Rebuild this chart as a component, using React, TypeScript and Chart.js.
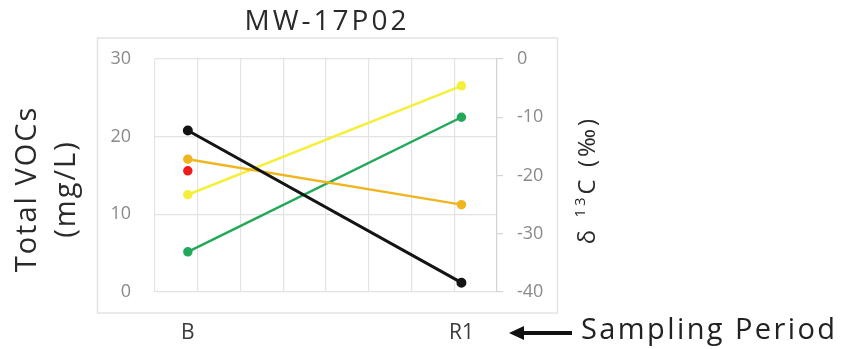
import React, { useEffect, useRef } from "react";
import { Chart, registerables } from "chart.js";

Chart.register(...registerables);

const chartTitle = "MW-17P02";
const categories = ["B", "R1"];
const categoryX = [0, 1];
const totalVOCs = [20.8, 1.2];
const orangeD13C = [-17.2, -25.0];
const redD13C = [-19.2];
const yellowD13C = [-23.3, -4.6];
const greenD13C = [-33.1, -10.0];
const leftTicks = [0, 10, 20, 30];
const rightTicks = [0, -10, -20, -30, -40];
const xMin = -0.12;
const xMax = 1.13;
const xGridCount = 8;

const FONT = "'Open Sans', 'DejaVu Sans', sans-serif";

const pts = (vals: number[]) => vals.map((v, i) => ({ x: categoryX[i], y: v }));

const decorPlugin = {
  id: "decor",
  beforeDraw(chart: any) {
    const { ctx, chartArea } = chart;
    ctx.save();
    ctx.strokeStyle = "#e4e4e4";
    ctx.lineWidth = 1.5;
    ctx.strokeRect(chartArea.left - 57.5, chartArea.top - 21, chartArea.right - chartArea.left + 118, chartArea.bottom - chartArea.top + 42);
    ctx.restore();
  },
  afterDraw(chart: any) {
    const { ctx } = chart;
    ctx.save();
    // Title
    ctx.fillStyle = "#2a2a2a";
    ctx.font = `28px ${FONT}`;
    (ctx as any).letterSpacing = "3px";
    ctx.textAlign = "center";
    ctx.textBaseline = "middle";
    ctx.fillText(chartTitle, 327, 22);

    // Left axis title
    ctx.save();
    ctx.translate(28, 189);
    ctx.rotate(-Math.PI / 2);
    ctx.font = `29px ${FONT}`;
    (ctx as any).letterSpacing = "2px";
    ctx.fillStyle = "#2a2a2a";
    ctx.textAlign = "center";
    ctx.textBaseline = "middle";
    ctx.fillText("Total VOCs", 0, 0);
    ctx.fillText("(mg/L)", 0, 39);
    ctx.restore();

    // Right axis title with superscript
    ctx.save();
    ctx.translate(588, 180);
    ctx.rotate(-Math.PI / 2);
    ctx.fillStyle = "#2a2a2a";
    ctx.textBaseline = "middle";
    (ctx as any).letterSpacing = "3px";
    const big = `24px ${FONT}`;
    const small = `15px ${FONT}`;
    const parts: [string, string, number][] = [["δ ", big, 0], ["13", small, -7], ["C (‰)", big, 0]];
    let total = 0;
    parts.forEach(([t, f]) => { ctx.font = f; total += ctx.measureText(t).width; });
    let x = -total / 2;
    ctx.textAlign = "left";
    parts.forEach(([t, f, dy]) => { ctx.font = f; ctx.fillText(t, x, dy); x += ctx.measureText(t).width; });
    ctx.restore();

    // Arrow and "Sampling Period"
    const ay = 333;
    (ctx as any).letterSpacing = "0px";
    ctx.strokeStyle = "#111";
    ctx.fillStyle = "#111";
    ctx.lineWidth = 4;
    ctx.beginPath();
    ctx.moveTo(520, ay);
    ctx.lineTo(572, ay);
    ctx.stroke();
    ctx.beginPath();
    ctx.moveTo(509, ay);
    ctx.lineTo(524, ay - 7);
    ctx.lineTo(524, ay + 7);
    ctx.closePath();
    ctx.fill();
    ctx.font = `29px ${FONT}`;
    (ctx as any).letterSpacing = "2.4px";
    ctx.fillStyle = "#222";
    ctx.textAlign = "left";
    ctx.textBaseline = "middle";
    ctx.fillText("Sampling Period", 581, 331);
    ctx.restore();
  },
};

export default function App() {
  const ref = useRef<HTMLCanvasElement | null>(null);
  useEffect(() => {
    if (!ref.current) return;
    const xTickVals: number[] = [];
    for (let i = 0; i <= xGridCount; i++) xTickVals.push(xMin + ((xMax - xMin) * i) / xGridCount);
    const chart = new Chart(ref.current, {
      type: "line",
      data: {
        datasets: [
          { label: "Total VOCs", data: pts(totalVOCs), yAxisID: "y", borderColor: "#141414", backgroundColor: "#141414", borderWidth: 3, pointRadius: 3.5 },
          { label: "Orange", data: pts(orangeD13C), yAxisID: "y1", borderColor: "#f0b620", backgroundColor: "#f0b620", borderWidth: 2.5, pointRadius: 3.5 },
          { label: "Red", data: pts(redD13C), yAxisID: "y1", borderColor: "#ee1b1b", backgroundColor: "#ee1b1b", borderWidth: 2.5, pointRadius: 3.5 },
          { label: "Yellow", data: pts(yellowD13C), yAxisID: "y1", borderColor: "#f4f03a", backgroundColor: "#f4f03a", borderWidth: 2.5, pointRadius: 3.5 },
          { label: "Green", data: pts(greenD13C), yAxisID: "y1", borderColor: "#22a85a", backgroundColor: "#22a85a", borderWidth: 2.5, pointRadius: 3.5 },
        ],
      },
      options: {
        animation: false,
        responsive: false,
        maintainAspectRatio: false,
        layout: { padding: { top: 59, left: 0, right: 0, bottom: 0 } },
        plugins: { legend: { display: false }, tooltip: { enabled: false }, title: { display: false } },
        scales: {
          x: {
            type: "linear",
            min: xMin,
            max: xMax,
            afterFit: (s: any) => { s.height = 57; },
            afterBuildTicks: (s: any) => {
              s.ticks = [...xTickVals, ...categoryX].sort((a, b) => a - b).map((v) => ({ value: v }));
            },
            grid: {
              color: (c: any) => (c.tick && categoryX.includes(c.tick.value) ? "rgba(0,0,0,0)" : "#e3e3e3"),
              lineWidth: 1.2,
              drawTicks: false,
            },
            border: { display: false },
            ticks: {
              autoSkip: false,
              maxRotation: 0,
              padding: 28,
              color: "#3a3a3a",
              font: { family: FONT, size: 21 },
              callback: (v: any) => {
                const i = categoryX.indexOf(Number(v));
                return i >= 0 ? categories[i] : "";
              },
            },
          },
          y: {
            position: "left",
            min: 0,
            max: 30,
            afterFit: (s: any) => { s.width = 155; },
            afterBuildTicks: (s: any) => { s.ticks = leftTicks.map((v) => ({ value: v })); },
            grid: { color: "#e3e3e3", lineWidth: 1.2, drawTicks: false },
            border: { display: false },
            ticks: { padding: 24, color: "#8a8a8a", font: { family: FONT, size: 18 } },
          },
          y1: {
            position: "right",
            min: -40,
            max: 0,
            afterFit: (s: any) => { s.width = 843 - 497; },
            afterBuildTicks: (s: any) => { s.ticks = rightTicks.map((v) => ({ value: v })); },
            grid: { drawOnChartArea: false, color: "#d4d4d4", tickLength: 6, lineWidth: 1.2 },
            border: { display: true, color: "#d4d4d4", width: 1.2 },
            ticks: { padding: 14, color: "#8a8a8a", font: { family: FONT, size: 18 } },
          },
        },
      },
      plugins: [decorPlugin],
    });
    return () => chart.destroy();
  }, []);
  return (
    <div style={{ position: "fixed", left: 0, top: 0, width: 843, height: 349, background: "#fff" }}>
      <canvas ref={ref} width={843} height={349} style={{ width: 843, height: 349, display: "block" }} />
    </div>
  );
}
